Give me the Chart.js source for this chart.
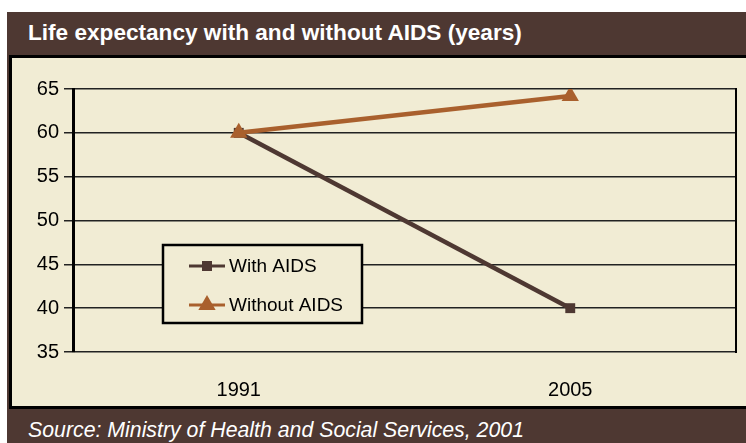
<!DOCTYPE html>
<html>
<head>
<meta charset="utf-8">
<script src="https://cdn.jsdelivr.net/npm/chart.js@4.4.0/dist/chart.umd.min.js"></script>
<style>
  html, body { margin: 0; padding: 0; background: #fff; width: 746px; height: 443px; overflow: hidden; }
  body { position: relative; font-family: 'Liberation Sans', Arial, sans-serif; }
  #frame { position: absolute; left: 7px; top: 12px; width: 760px; height: 431px; background: #4e3832; }
  #title { position: absolute; left: 28px; top: 15px; color: #fff; font-weight: bold; font-size: 22.6px; line-height: 36px; }
  #panel { position: absolute; left: 9px; top: 55px; width: 760px; height: 348px; background: #f1ecd4; border: 3px solid #000; }
  #source { position: absolute; left: 28px; top: 417px; color: #fff; font-style: italic; font-size: 21.3px; line-height: 26px; }
  #wrap { position: absolute; left: 0; top: 0; width: 746px; height: 443px; }
</style>
</head>
<body>
<div id="frame"></div>
<div id="title">Life expectancy with and without AIDS (years)</div>
<div id="panel"></div>
<div id="source">Source: Ministry of Health and Social Services, 2001</div>
<div id="wrap"><canvas id="lifeChart"></canvas></div>
<script>
// ─── Dados ────────────────────────────────────────────────
const years       = ['1991', '2005'];
const withAids    = [60, 40];
const withoutAids = [60, 64.2];
const yTicks      = [35, 40, 45, 50, 55, 60, 65];

const COLORS = { marrom: '#4e3832', laranja: '#a9602d', fundo: '#f1ecd4', preto: '#111' };
const FONT = "'Liberation Sans', Arial, sans-serif";

// Borda direita da área do gráfico
const frameRight = {
  id: 'frameRight',
  afterDraw(chart) {
    const { ctx, chartArea: a } = chart;
    ctx.save();
    ctx.strokeStyle = '#000';
    ctx.lineWidth = 2;
    ctx.beginPath();
    ctx.moveTo(a.right, a.top - 1);
    ctx.lineTo(a.right, a.bottom + 1);
    ctx.stroke();
    ctx.restore();
  }
};

// Legenda dentro da área do gráfico
const boxLegend = {
  id: 'boxLegend',
  afterDraw(chart, args, opts) {
    const { ctx, chartArea: a } = chart;
    const x = a.left + opts.x, y = a.top + opts.y, w = opts.w, h = opts.h;
    ctx.save();
    ctx.fillStyle = COLORS.fundo;
    ctx.fillRect(x, y, w, h);
    ctx.strokeStyle = '#000';
    ctx.lineWidth = 2.5;
    ctx.strokeRect(x, y, w, h);
    const rows = [chart.data.datasets.find(d => d.label === 'With AIDS'),
                  chart.data.datasets.find(d => d.label === 'Without AIDS')];
    rows.forEach((ds, i) => {
      const cy = y + opts.rows[i];
      ctx.strokeStyle = ds.borderColor;
      ctx.lineWidth = 3;
      ctx.beginPath();
      ctx.moveTo(x + 26, cy);
      ctx.lineTo(x + 62, cy);
      ctx.stroke();
      ctx.fillStyle = ds.pointBackgroundColor;
      const mx = x + 44;
      if (ds.pointStyle === 'rect') {
        ctx.fillRect(mx - 5, cy - 5, 10, 10);
      } else {
        const r = 10;
        ctx.beginPath();
        ctx.moveTo(mx, cy - r);
        ctx.lineTo(mx + r * 0.866, cy + r / 2);
        ctx.lineTo(mx - r * 0.866, cy + r / 2);
        ctx.closePath();
        ctx.fill();
      }
      ctx.fillStyle = '#000';
      ctx.font = `19px ${FONT}`;
      ctx.textBaseline = 'middle';
      ctx.textAlign = 'left';
      ctx.fillText(ds.label, x + 66, cy + 1);
    });
    ctx.restore();
  }
};

new Chart(document.getElementById('lifeChart'), {
  type: 'line',
  data: {
    labels: years,
    datasets: [
      {
        label: 'With AIDS',
        data: withAids,
        borderColor: COLORS.marrom,
        backgroundColor: COLORS.marrom,
        pointBackgroundColor: COLORS.marrom,
        pointBorderWidth: 0,
        borderWidth: 4.5,
        pointStyle: 'rect',
        pointRadius: 7,
        tension: 0,
        order: 2,
      },
      {
        label: 'Without AIDS',
        data: withoutAids,
        borderColor: COLORS.laranja,
        backgroundColor: COLORS.laranja,
        pointBackgroundColor: COLORS.laranja,
        pointBorderWidth: 0,
        borderWidth: 4.5,
        pointStyle: 'triangle',
        pointRadius: 10,
        tension: 0,
        order: 1,
      },
    ],
  },
  options: {
    responsive: true, maintainAspectRatio: false,
    animation: false,
    layout: { padding: { left: 0, right: 7, top: 89, bottom: 0 } },
    scales: {
      x: {
        offset: true,
        grid: { display: false },
        border: { display: false },
        ticks: { color: '#000', font: { family: FONT, size: 20 }, padding: 18 },
        afterFit(scale) { scale.height = 91; },
      },
      y: {
        min: 35, max: 65,
        afterBuildTicks(scale) { scale.ticks = yTicks.map(v => ({ value: v })); },
        grid: { color: '#222', lineWidth: 1.5, tickLength: 9, tickColor: '#222' },
        border: { color: '#000', width: 3 },
        ticks: { color: '#000', font: { family: FONT, size: 20 }, padding: 5 },
        afterFit(scale) { scale.width = 73; },
      },
    },
    plugins: {
      legend: { display: false },
      tooltip: { enabled: false },
      boxLegend: { x: 90, y: 156, w: 199, h: 78, rows: [21, 60] },
    },
  },
  plugins: [frameRight, boxLegend],
});
</script>
</body>
</html>
